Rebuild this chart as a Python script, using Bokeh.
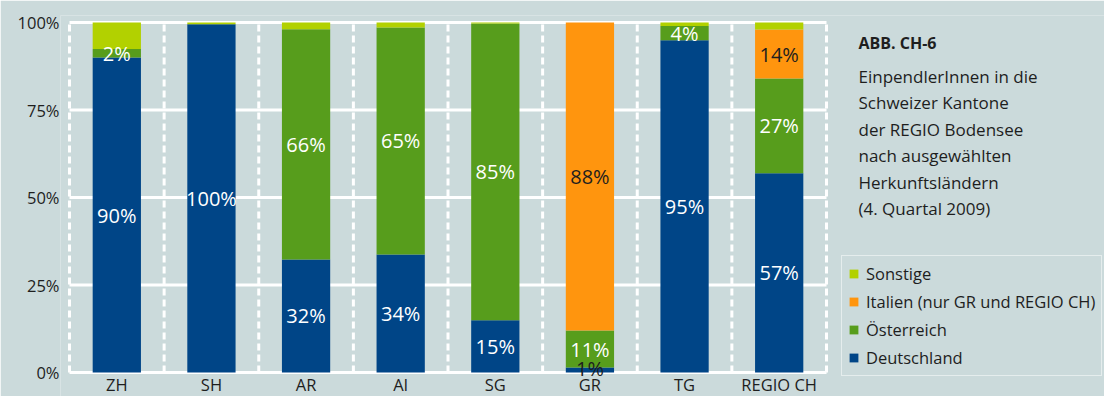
from bokeh.plotting import figure
from bokeh.models import ColumnDataSource, Range1d, FixedTicker, Legend, LegendItem, Label
from bokeh.core.properties import value
from bokeh.embed import file_html
from bokeh.resources import INLINE

# ---------------- data ----------------
cantons = ["ZH", "SH", "AR", "AI", "SG", "GR", "TG", "REGIO CH"]
deutschland = [90.0, 99.5, 32.3, 33.7, 14.9, 1.4, 94.9, 56.9]
oesterreich = [2.4, 0.0, 65.8, 64.9, 84.8, 10.6, 4.1, 27.1]
italien = [0.0, 0.0, 0.0, 0.0, 0.0, 88.0, 0.0, 14.0]
sonstige = [7.6, 0.5, 1.9, 1.4, 0.3, 0.0, 1.0, 2.0]
series_keys = ["deutschland", "oesterreich", "italien", "sonstige"]
series_names = ["Deutschland", "Österreich", "Italien (nur GR und REGIO CH)", "Sonstige"]
series_colors = ["#004587", "#579d1c", "#ff950e", "#b2d100"]
label_colors = ["white", "white", "#1e1e1e"]
y_ticks = [0, 25, 50, 75, 100]
y_tick_labels = ["0%", "25%", "50%", "75%", "100%"]
title_bold = "ABB. CH-6"
title_lines = ["EinpendlerInnen in die", "Schweizer Kantone", "der REGIO Bodensee",
               "nach ausgewählten", "Herkunftsländern", "(4. Quartal 2009)"]

FONT = "Open Sans"
BG = "#cbdadb"
DARK = "#1e1e1e"

# ---------------- geometry helpers (figure pixel coords) ----------------
UX = 94.625      # px per category
UY = 3.5         # px per percent
X0_PX = 69       # px of x=0
Y0_PX = 372      # px of y=0
W, H = 1104, 396
BL, BT = 60, 15


def ax(px):
    return (px - X0_PX) / UX


def ay(py):
    return (Y0_PX - py) / UY


x_start = ax(BL)
x_end = ax(W)
y_end = ay(BT)
y_start = ay(H)

xs = [i + 0.5 for i in range(len(cantons))]
src = ColumnDataSource(dict(x=xs, deutschland=deutschland, oesterreich=oesterreich,
                            italien=italien, sonstige=sonstige))

p = figure(width=W, height=H, output_backend="svg", toolbar_location=None,
           x_range=Range1d(x_start, x_end), y_range=Range1d(y_start, y_end),
           min_border_left=BL, min_border_right=0, min_border_top=BT, min_border_bottom=0,
           background_fill_color=BG, border_fill_color=BG, outline_line_color=None)
p.grid.visible = False

# dashed vertical separators
bounds = list(range(len(cantons) + 1))
p.segment(x0=bounds, x1=bounds, y0=[0] * len(bounds), y1=[100] * len(bounds),
          line_color="white", line_width=3, line_dash="7 4")
# solid horizontal grid lines
p.segment(x0=[0] * len(y_ticks), x1=[len(cantons)] * len(y_ticks), y0=y_ticks, y1=y_ticks,
          line_color="white", line_width=3)

rs = p.vbar_stack(series_keys, x="x", width=0.51, source=src, color=series_colors,
                  line_color=None)

# segment labels
lx, ly, lt, lc = [], [], [], []
series_vals = [deutschland, oesterreich, italien]
for i in range(len(cantons)):
    base = 0.0
    for s, vals in enumerate(series_vals):
        v = vals[i]
        if v > 0:
            lx.append(xs[i])
            lt.append(f"{round(v)}%")
            if v < 2:
                ly.append(base + 1.1)
                lc.append(DARK)
            else:
                ly.append(base + v / 2)
                lc.append(label_colors[s])
        base += v

p.text(x=lx, y=ly, text=lt, text_color=lc, text_align="center", text_baseline="middle",
       text_font=value(FONT), text_font_size="20px")

# axes
p.yaxis.ticker = FixedTicker(ticks=y_ticks)
p.yaxis.major_label_overrides = {t: l for t, l in zip(y_ticks, y_tick_labels)}
p.xaxis.ticker = FixedTicker(ticks=xs)
p.xaxis.major_label_overrides = {x: c for x, c in zip(xs, cantons)}
p.xaxis.fixed_location = 0
for a in (p.xaxis, p.yaxis):
    a.axis_line_color = None
    a.major_tick_line_color = None
    a.minor_tick_line_color = None
    a.major_tick_out = 0
    a.major_tick_in = 0
    a.minor_tick_out = 0
    a.major_label_text_font = FONT
    a.major_label_text_color = DARK
p.yaxis.major_label_text_font_size = "16.5px"
p.xaxis.major_label_text_font_size = "16.5px"
p.yaxis.major_label_standoff = 1
p.xaxis.major_label_standoff = 0

# title text
p.add_layout(Label(x=ax(858), y=ay(42), text=title_bold, text_font=FONT, text_font_size="16px",
                   text_font_style="bold", text_color=DARK, text_baseline="middle"))
for k, line in enumerate(title_lines):
    p.add_layout(Label(x=ax(858), y=ay(76 + 26.4 * k), text=line, text_font=FONT,
                       text_font_size="17px", text_color=DARK, text_baseline="middle"))

# legend
items = [LegendItem(label=series_names[k], renderers=[rs[k]]) for k in (3, 2, 1, 0)]
leg = Legend(items=items, location=(841 - BL, H - 376))
leg.label_text_font = FONT
leg.label_text_font_size = "16.5px"
leg.label_text_color = DARK
leg.label_height = 20
leg.glyph_height = 11
leg.glyph_width = 11
leg.spacing = 5
leg.padding = 6
leg.margin = 0
leg.label_standoff = 7
leg.border_line_color = "white"
leg.border_line_width = 1.5
leg.background_fill_alpha = 0
p.add_layout(leg, "center")

open("out.html", "w").write(file_html(p, INLINE))
